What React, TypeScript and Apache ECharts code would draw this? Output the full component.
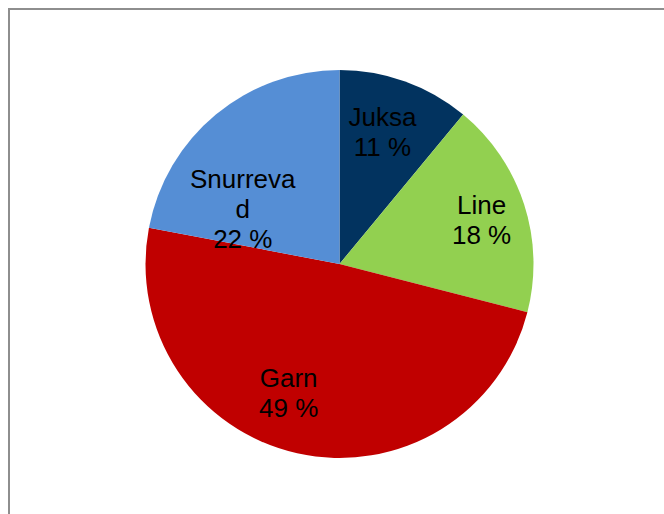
import React, { useEffect, useRef } from "react";
import * as echarts from "echarts";

const categories = ["Juksa", "Line", "Garn", "Snurrevad"];
const values = [11, 18, 49, 22];
const colors = ["#02335f", "#92d050", "#c00000", "#558ed5"];
const labelOffsets: [number, number][] = [
  [9, -38],
  [47, -13],
  [-29, 31],
  [-33, 22],
];

export default function App() {
  const ref = useRef<HTMLDivElement>(null);
  useEffect(() => {
    if (!ref.current) return;
    const chart = echarts.init(ref.current, null, { renderer: "svg" });
    const total = values.reduce((a, b) => a + b, 0);
    chart.setOption({
      animation: false,
      backgroundColor: "#ffffff",
      graphic: [
        {
          type: "rect",
          shape: { x: 1, y: 1, width: 800, height: 700 },
          style: { fill: "none", stroke: "#8e8e8e", lineWidth: 2 },
          silent: true,
        },
      ],
      series: [
        {
          type: "pie",
          center: [331.5, 256],
          radius: 194,
          startAngle: 90,
          clockwise: true,
          avoidLabelOverlap: false,
          labelLine: { show: false },
          itemStyle: { borderWidth: 0 },
          emphasis: { disabled: true },
          data: categories.map((name, i) => ({
            name,
            value: values[i],
            itemStyle: { color: colors[i] },
            label: {
              offset: labelOffsets[i],
              ...(name === "Snurrevad" ? { width: 112, overflow: "break" } : {}),
            },
          })),
          label: {
            show: true,
            position: "inside",
            color: "#000000",
            fontFamily: "Liberation Sans, Arial, sans-serif",
            fontSize: 26,
            lineHeight: 30,
            align: "center",
            formatter: (p: any) =>
              p.name + "\n" + Math.round((p.value / total) * 100) + " %",
          },
        },
      ],
    });
    return () => chart.dispose();
  }, []);
  return (
    <div
      ref={ref}
      style={{ position: "fixed", left: 8, top: 8, width: 656, height: 506 }}
    />
  );
}
